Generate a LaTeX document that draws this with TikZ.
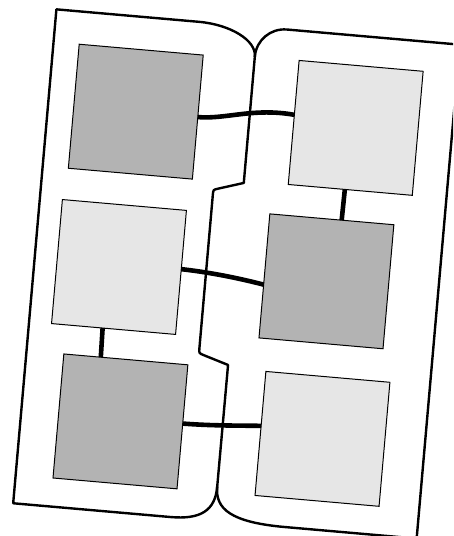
\documentclass[tikz,border=0pt]{standalone}
\definecolor{darkbox}{RGB}{179,179,179}
\definecolor{lightbox}{RGB}{230,230,230}
\begin{document}
\begin{tikzpicture}[x=1pt,y=-1pt,
  frame/.style={line width=2.4pt, line join=round, line cap=round},
  boxdark/.style={draw, line width=1pt, fill=darkbox, minimum size=124.5pt, inner sep=0pt, outer sep=0pt},
  boxlight/.style={boxdark, fill=lightbox},
  link/.style={line width=4.6pt}]
\useasboundingbox (0,0) rectangle (453,536);
\fill[white] (0,0) rectangle (453,536);
\clip (0,0) rectangle (453,536);
\begin{scope}[rotate=-5, transform shape]
  % left panel outline
  \draw[frame] (258.8,34) .. controls (258.8,18) and (232,4.4) .. (200,4.4)
     -- (57,4.4) -- (57,500.2) -- (215,500.2)
     .. controls (245,500.2) and (258.8,490) .. (258.8,466);
  % right panel outline
  \draw[frame] (258.8,34) .. controls (258.8,17.8) and (271.8,4.4) .. (288.4,4.4)
     -- (462,4.4) -- (462,500.2) -- (330,500.2)
     .. controls (275,500.2) and (258.8,488) .. (258.8,466);
  % divider
  \draw[frame] (258.8,34) -- (258.8,161) -- (233.8,168.9)
     .. controls (229,170.4) .. (229,175.4) -- (229,329.5)
     .. controls (229,334.5) .. (233.8,336) -- (259,343.7) -- (258.8,466);
  % boxes
  \node[boxdark]  (A) at (145,99.4) {};
  \node[boxlight] (B) at (365.5,96.4) {};
  \node[boxlight] (C) at (141.8,255.6) {};
  \node[boxdark]  (D) at (349.7,251.8) {};
  \node[boxdark]  (E) at (156.7,409.3) {};
  \node[boxlight] (F) at (359.5,409.1) {};
  % connectors
  \draw[link] (A.east) .. controls (235,99.4) and (262,85) .. (B.173);
  \draw[link] (C.3) .. controls (232,253) and (260,256) .. (D.188);
  \draw[link] (E.3) .. controls (245,405.7) and (265,404) .. (F.173);
  \draw[link] (B.265) -- (D.81);
  \draw[link] (C.260) -- (E.112);
\end{scope}
\end{tikzpicture}
\end{document}
